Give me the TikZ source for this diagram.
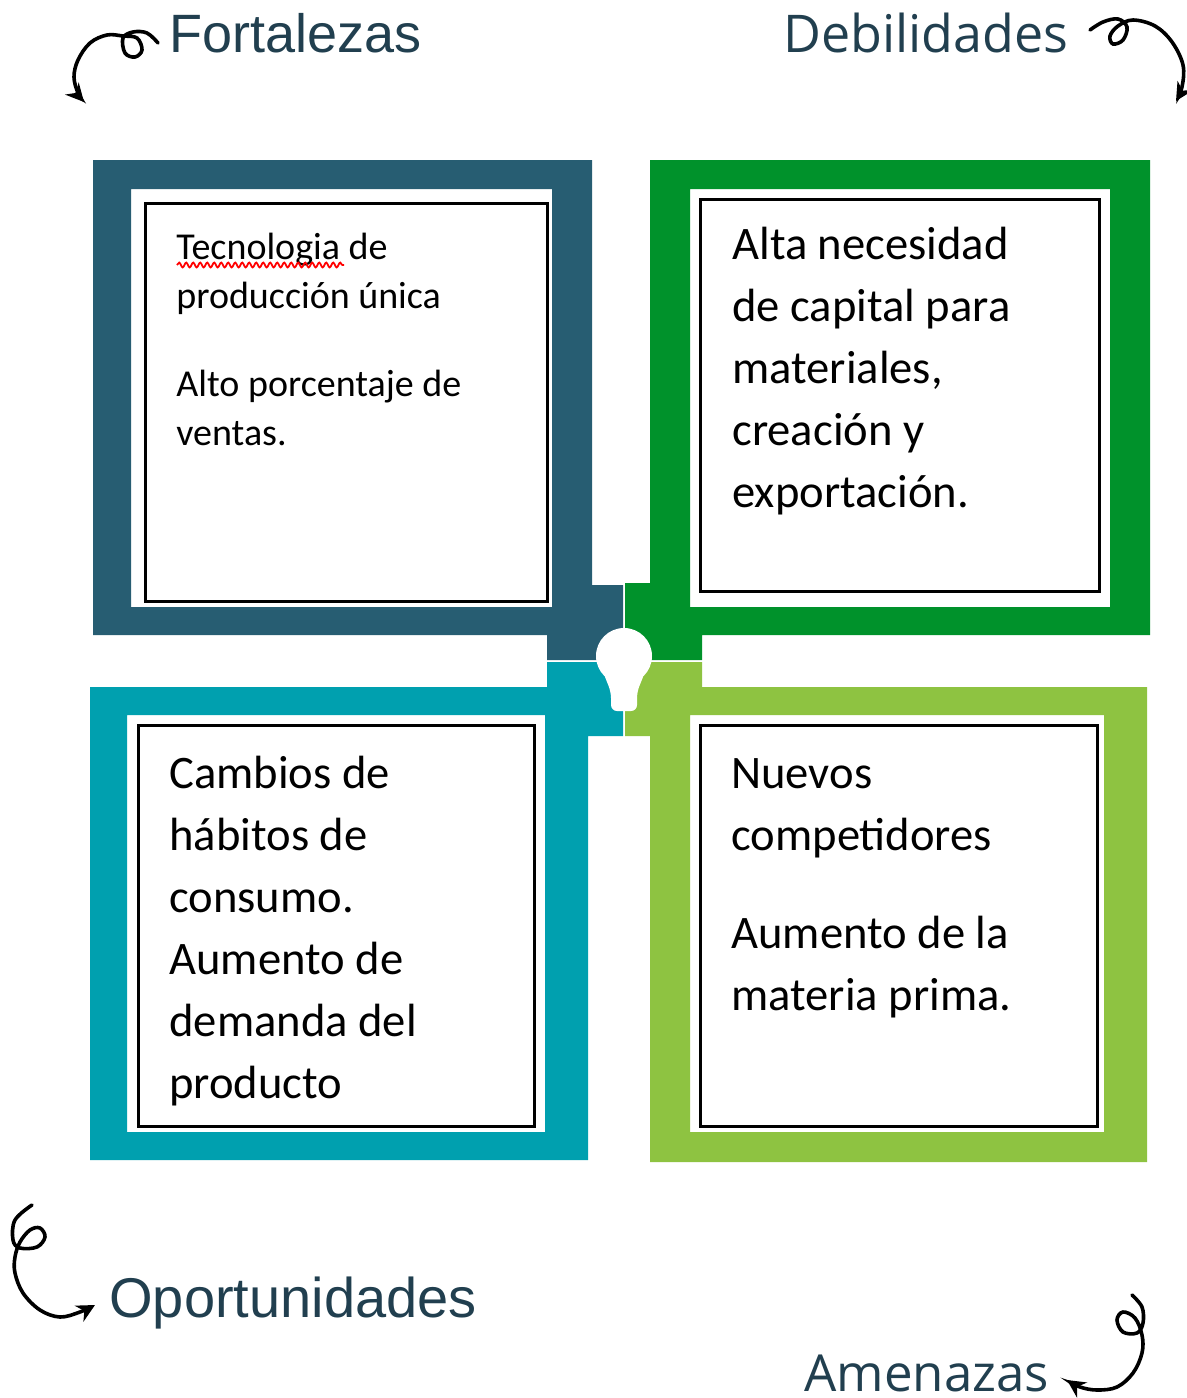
\documentclass[tikz,border=0pt]{standalone}
\usepackage{fontspec}
\usetikzlibrary{arrows.meta,decorations.pathmorphing}
\setmainfont{Carlito}
\newfontfamily\arialfont{Liberation Sans}
\newfontfamily\openfont{Open Sans}
\definecolor{headblue}{HTML}{213F4F}
\definecolor{fortblue}{HTML}{275D72}
\definecolor{debgreen}{HTML}{00922B}
\definecolor{opteal}{HTML}{00A0AF}
\definecolor{amelime}{HTML}{8EC341}

\begin{document}
\begin{tikzpicture}[x=0.5pt,y=-0.5pt,
  heading/.style={anchor=base west,inner sep=0,text=headblue},
  itembox/.style={draw=black,line width=1.5pt},
  items/.style={anchor=base west,inner sep=0,align=left},
  curl/.style={line width=1.8pt,line cap=round,-{Stealth[length=9pt,width=9pt]}}]
\useasboundingbox (0,0) rectangle (1187,1398);

% frames
\fill[fortblue,even odd rule] (93,160) -- (592,160) -- (592,585) -- (623,585) -- (623,660) -- (547,660) -- (547,635) -- (93,635) -- cycle
  (131,189) rectangle (552,607);
\fill[debgreen,even odd rule] (650,160) -- (1150,160) -- (1150,635) -- (702,635) -- (702,660) -- (625,660) -- (625,583) -- (650,583) -- cycle
  (690,189) rectangle (1110,607);
\fill[opteal,even odd rule] (90,687) -- (547,687) -- (547,662) -- (623,662) -- (623,736) -- (588,736) -- (588,1160) -- (90,1160) -- cycle
  (127,715) rectangle (545,1132);
\fill[amelime,even odd rule] (625,662) -- (702,662) -- (702,687) -- (1147,687) -- (1147,1162) -- (650,1162) -- (650,736) -- (625,736) -- cycle
  (690,715) rectangle (1104,1132);

% bulb
\fill[white] (624,656) circle[radius=28];
\fill[white,rounded corners=3pt] (603,672) -- (645,672) -- (637,692) -- (637,711) -- (611,711) -- (611,692) -- cycle;

% boxes
\draw[itembox] (145,203) rectangle (547,601);
\draw[itembox] (700,199) rectangle (1099,591);
\draw[itembox] (138,725) rectangle (534,1126);
\draw[itembox] (700,725) rectangle (1097,1126);

% texts (anchored at the last line)
\node[items,font=\fontsize{19}{24.5}\selectfont] (fortext) at (176,445)
  {Tecnologia de\\producción única\\[19.5pt]Alto porcentaje de\\ventas.};
\draw[red,line width=0.9pt,decorate,decoration={snake,amplitude=1.2pt,segment length=3.5pt}] (177,265) -- (344,265);
\node[items,font=\fontsize{23.3}{31}\selectfont] (debtext) at (732,507)
  {Alta necesidad\\de capital para\\materiales,\\creación y\\exportación.};
\node[items,font=\fontsize{23.3}{31}\selectfont] (optext) at (169,1098)
  {Cambios de\\hábitos de\\consumo.\\Aumento de\\demanda del\\producto};
\node[items,font=\fontsize{23.3}{31}\selectfont] (amtext) at (731,1010)
  {Nuevos\\competidores\\[18pt]Aumento de la\\materia prima.};

% headings
\node[heading,font=\arialfont\fontsize{27}{30}\selectfont] (fort) at (169,52) {Fortalezas};
\node[heading,font=\openfont\fontsize{26}{30}\selectfont] (deb) at (783,52) {Debilidades};
\node[heading,font=\arialfont\fontsize{28}{30}\selectfont] (opor) at (109,1317) {Oportunidades};
\node[heading,font=\openfont\fontsize{25.5}{30}\selectfont] (amen) at (804,1391) {Amenazas};

% curls
\draw[curl] plot[smooth,tension=0.6] coordinates {(158,43) (147,33) (133,32) (123,38) (125,53) (135,57) (142,50) (137,38) (123,36) (107,35) (90,43) (78,60) (74,77) (78,93) (84,102)};
\draw[curl] plot[smooth,tension=0.6] coordinates {(1090,30) (1103,22) (1118,19) (1127,27) (1123,40) (1113,44) (1110,36) (1118,26) (1133,20) (1155,26) (1172,42) (1183,65) (1182,87) (1176,101)};
\draw[curl] plot[smooth,tension=0.6] coordinates {(32,1205) (15,1220) (13,1240) (20,1248) (37,1247) (45,1237) (40,1228) (30,1230) (20,1242) (15,1257) (15,1273) (23,1293) (40,1310) (60,1317) (80,1312) (95,1305)};
\draw[curl] plot[smooth,tension=0.6] coordinates {(1132,1295) (1142,1307) (1143,1323) (1137,1333) (1123,1332) (1117,1320) (1123,1312) (1135,1318) (1142,1335) (1142,1353) (1133,1373) (1117,1387) (1097,1390) (1080,1387) (1067,1380)};
\end{tikzpicture}
\end{document}
